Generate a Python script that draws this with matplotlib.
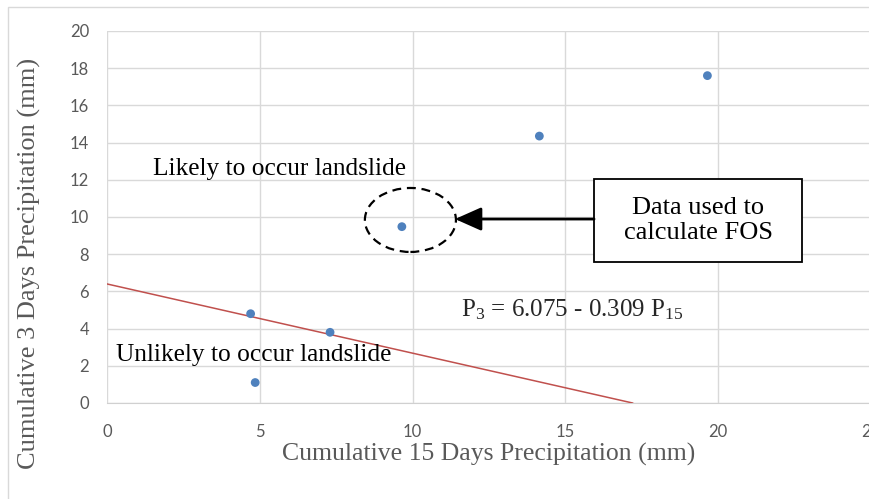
import matplotlib
matplotlib.use("Agg")
import matplotlib.pyplot as plt
from matplotlib.patches import Ellipse, Rectangle

serif = 'Liberation Serif'
tickfont = 'Lato'
plt.rcParams['mathtext.fontset'] = 'custom'
plt.rcParams['mathtext.rm'] = serif
plt.rcParams['mathtext.it'] = serif + ':italic'

# scatter data
p15 = [4.7, 4.85, 7.3, 9.65, 14.15, 19.65]
p3 = [4.8, 1.1, 3.8, 9.48, 14.35, 17.6]

# threshold line as drawn
line_x = [0, 17.2]
line_y = [6.4, 0]

xticks = [0, 5, 10, 15, 20, 25]
yticks = [0, 2, 4, 6, 8, 10, 12, 14, 16, 18, 20]

fig = plt.figure(figsize=(8.7, 4.99), dpi=100)
ax = fig.add_axes([0.123, 0.1924, 0.878, 0.7455])

# outer frame of the chart
fig.patches.append(Rectangle((8/870, -0.01), 1.0, 1.01 - 7/499, transform=fig.transFigure,
                             fill=False, edgecolor='#d9d9d9', linewidth=1.0))

ax.plot(line_x, line_y, color='#c0504d', linewidth=1.1, zorder=3)
ax.scatter(p15, p3, s=40, color='#4f81bd', zorder=4, edgecolors='none')

ax.set_xlim(0, 25)
ax.set_ylim(0, 20)
ax.set_xticks(xticks)
ax.set_yticks(yticks)
ax.grid(True, color='#d9d9d9', linewidth=1.0)
ax.set_axisbelow(True)
for s in ax.spines.values():
    s.set_visible(False)
ax.spines['bottom'].set_visible(True)
ax.spines['bottom'].set_color('#d0d0d0')
ax.tick_params(length=0, labelsize=12, labelcolor='#595959')
ax.tick_params(axis='x', pad=15)
ax.tick_params(axis='y', pad=13)
for lab in ax.get_xticklabels() + ax.get_yticklabels():
    lab.set_fontfamily(tickfont)

ax.set_xlabel('Cumulative 15 Days Precipitation (mm)', family=serif, fontsize=18.5,
              color='#595959', labelpad=2)
ax.set_ylabel('Cumulative 3 Days Precipitation (mm)', family=serif, fontsize=19,
              color='#595959', labelpad=8)
ax.yaxis.set_label_coords(-0.086, 0.375)

ax.text(1.5, 12.6, 'Likely to occur landslide', family=serif, fontsize=18.3,
        color='black', va='center', ha='left')
ax.text(0.3, 2.6, 'Unlikely to occur landslide', family=serif, fontsize=18.3,
        color='black', va='center', ha='left')
ax.text(11.6, 5.0, r'P$_\mathrm{3}$ = 6.075 - 0.309 P$_\mathrm{15}$', family=serif, fontsize=18,
        color='#262626', va='center', ha='left')

# dashed circle round the point used for FOS
ax.add_patch(Ellipse((9.93, 9.84), 2.98, 3.44, fill=False, edgecolor='black',
                     linestyle=(0, (4, 2.6)), linewidth=1.6, zorder=5))

# text box with arrow
ax.add_patch(Rectangle((15.94, 7.58), 6.81, 4.46, facecolor='white', edgecolor='black',
                       linewidth=1.3, zorder=6))
ax.annotate('', xy=(11.39, 9.89), xytext=(15.94, 9.89),
            arrowprops=dict(arrowstyle='-|>,head_length=0.9,head_width=0.4', color='black',
                            lw=2, shrinkA=0, shrinkB=0, mutation_scale=18),
            zorder=6)
ax.text(19.35, 9.8, 'Data used to\ncalculate FOS', family=serif, fontsize=19,
        ha='center', va='center', linespacing=1.2, zorder=7)

fig.savefig('out.png', dpi=100)
